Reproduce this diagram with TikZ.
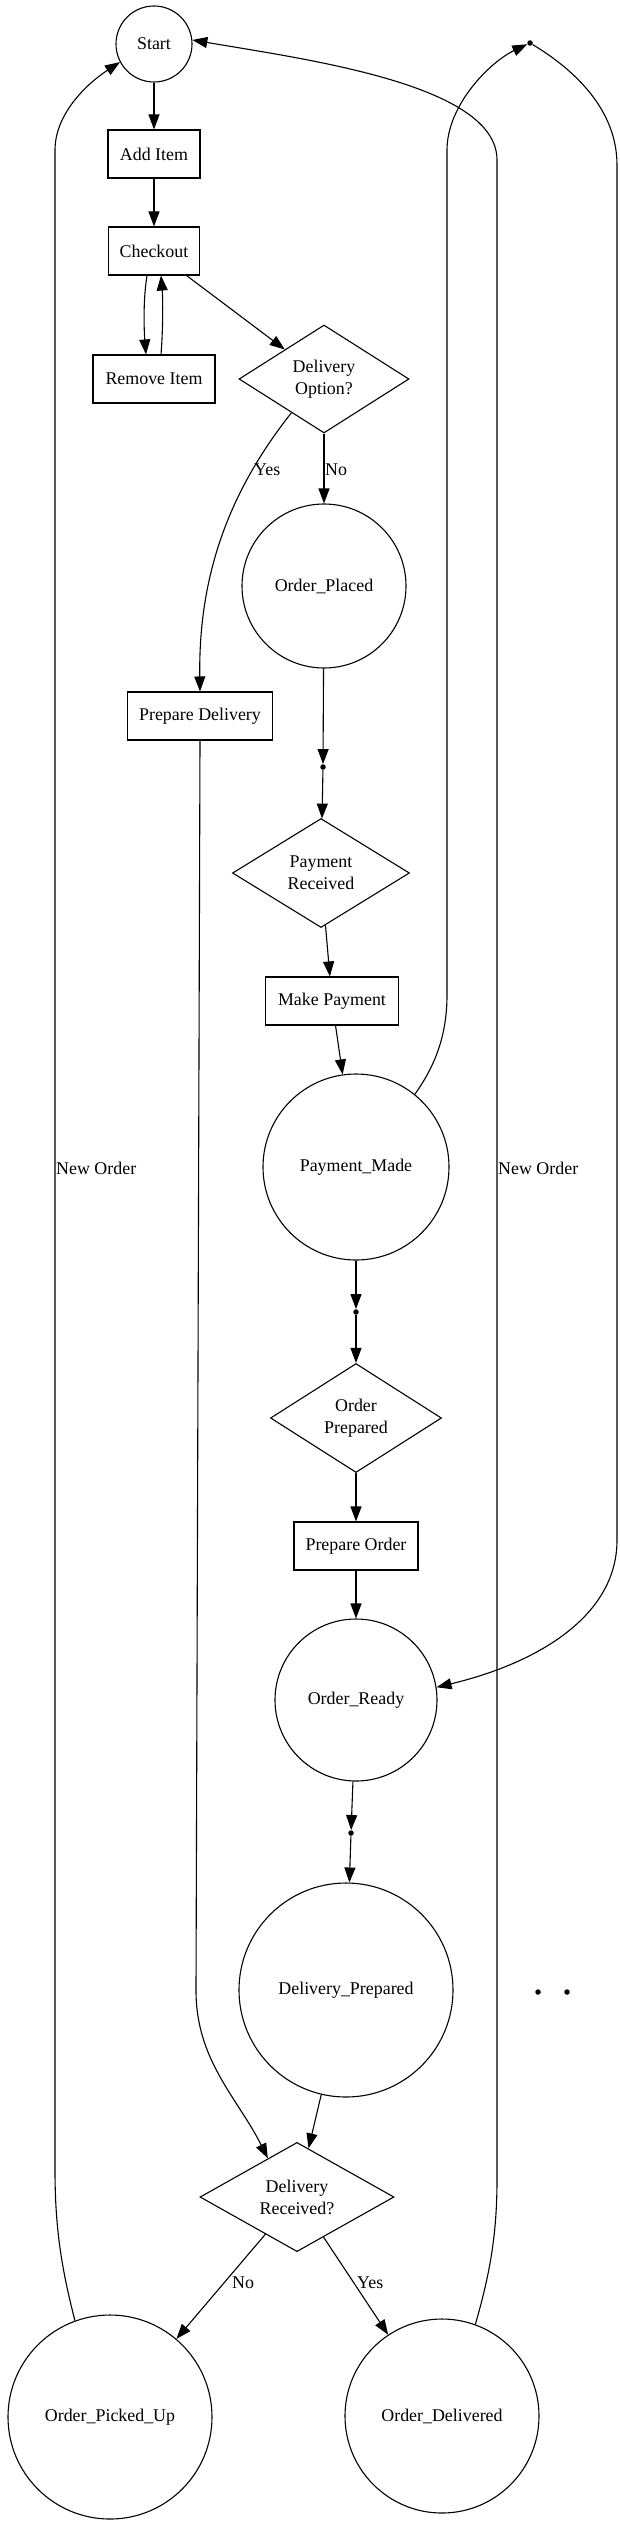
\documentclass[tikz,border=0pt]{standalone}
\usepackage{fontspec}
\setmainfont{Liberation Serif}
\usetikzlibrary{shapes.geometric,arrows.meta}
\begin{document}
\begin{tikzpicture}[x=1pt,y=-1pt,
  every node/.style={font=\fontsize{17.9}{22}\selectfont},
  box/.style={draw, rectangle, line width=1.1pt, minimum height=48pt, inner sep=0pt},
  state/.style={draw, circle, line width=1.1pt, inner sep=0pt},
  decision/.style={draw, diamond, line width=1.1pt, inner sep=0pt, align=center},
  dotnode/.style={circle, fill, inner sep=0pt, minimum size=5.5pt},
  arr/.style={line width=1.1pt, -{Triangle[length=15pt,width=11pt]}},
  lbl/.style={anchor=west, inner sep=0pt}
]
\useasboundingbox (0,0) rectangle (620,2542);

% nodes
\node[state, minimum size=76pt] (start) at (154,44) {Start};
\node[box, minimum width=92pt] (additem) at (154,154) {Add Item};
\node[box, minimum width=91pt] (checkout) at (154,251) {Checkout};
\node[box, minimum width=122pt] (removeitem) at (154,379) {Remove Item};
\node[decision, minimum width=170pt, minimum height=108pt] (delopt) at (324,379) {Delivery\\Option?};
\node[state, minimum size=164pt] (orderplaced) at (324,586) {Order\_Placed};
\node[box, minimum width=145pt] (prepdel) at (200,716) {Prepare Delivery};
\node[dotnode] (dot1) at (323,767) {};
\node[decision, minimum width=177pt, minimum height=109pt] (payrec) at (321,873) {Payment\\Received};
\node[box, minimum width=133pt] (makepay) at (332,1001) {Make Payment};
\node[state, minimum size=186pt] (paymade) at (356,1167) {Payment\_Made};
\node[dotnode] (dot2) at (356,1312) {};
\node[decision, minimum width=171pt, minimum height=109pt] (ordprep) at (356,1418) {Order\\Prepared};
\node[box, minimum width=124pt] (preporder) at (356,1546) {Prepare Order};
\node[state, minimum size=162pt] (orderready) at (356,1700) {Order\_Ready};
\node[dotnode] (dot3) at (351,1833) {};
\node[state, minimum size=214pt] (delprep) at (346,1990) {Delivery\_Prepared};
\node[decision, minimum width=194pt, minimum height=105pt] (delrec) at (297,2197) {Delivery\\Received?};
\node[state, minimum size=204pt] (pickedup) at (110,2417) {Order\_Picked\_Up};
\node[state, minimum size=194pt] (delivered) at (442,2416) {Order\_Delivered};
\node[dotnode] (topdot) at (530,43) {};
\node[dotnode] (isoA) at (538,1992) {};
\node[dotnode] (isoB) at (567,1992) {};

% edges
\draw[arr] (start) -- (additem);
\draw[arr] (additem) -- (checkout);
\draw[arr] ([xshift=-7pt]checkout.south) .. controls (143,300) and (144,330) .. ([xshift=-8pt]removeitem.north);
\draw[arr] ([xshift=7pt]removeitem.north) .. controls (163,330) and (163,300) .. ([xshift=7pt]checkout.south);
\draw[arr] (checkout) -- (delopt);
\draw[arr] (delopt) -- (orderplaced);
\node[lbl] (lno1) at (325,470) {No};
\draw[arr] (delopt.226) .. controls (240,478) and (198,560) .. (prepdel.north);
\node[lbl] (lyes1) at (254,470) {Yes};
\draw[arr] (orderplaced) -- (dot1);
\draw[arr] (dot1) -- (payrec);
\draw[arr] (payrec) -- (makepay);
\draw[arr] (makepay) -- (paymade);
\draw[arr] (paymade) -- (dot2);
\draw[arr] (dot2) -- (ordprep);
\draw[arr] (ordprep) -- (preporder);
\draw[arr] (preporder) -- (orderready);
\draw[arr] (orderready) -- (dot3);
\draw[arr] (dot3) -- (delprep);
\draw[arr] (delprep) -- (delrec);
\draw[arr] (prepdel.south) -- ++(-4,1250) .. controls +(0,70) and +(-30,-60) .. (delrec.127);
\draw[arr] (delrec) -- (pickedup);
\node[lbl] (lno2) at (232,2283) {No};
\draw[arr] (delrec) -- (delivered);
\node[lbl] (lyes2) at (357,2283) {Yes};
\draw[arr] (pickedup.110) .. controls (62,2270) and (55,2230) .. (55,2170) -- (55,150) .. controls (55,115) and (85,85) .. (start.208);
\node[lbl] (lnew1) at (56,1168) {New Order};
\draw[arr] (delivered.70) .. controls (488,2280) and (497,2240) .. (497,2180) -- (497,160) .. controls (497,85) and (310,60) .. (start.6);
\node[lbl] (lnew2) at (498,1168) {New Order};
\draw[arr] (paymade.51) .. controls (432,1070) and (447,1040) .. (447,995) -- (447,150) .. controls (447,105) and (490,62) .. (topdot);
\draw[arr] (topdot) .. controls (575,70) and (617,110) .. (617,165) -- (617,1540) .. controls (617,1620) and (530,1665) .. (orderready.9);
\end{tikzpicture}
\end{document}
